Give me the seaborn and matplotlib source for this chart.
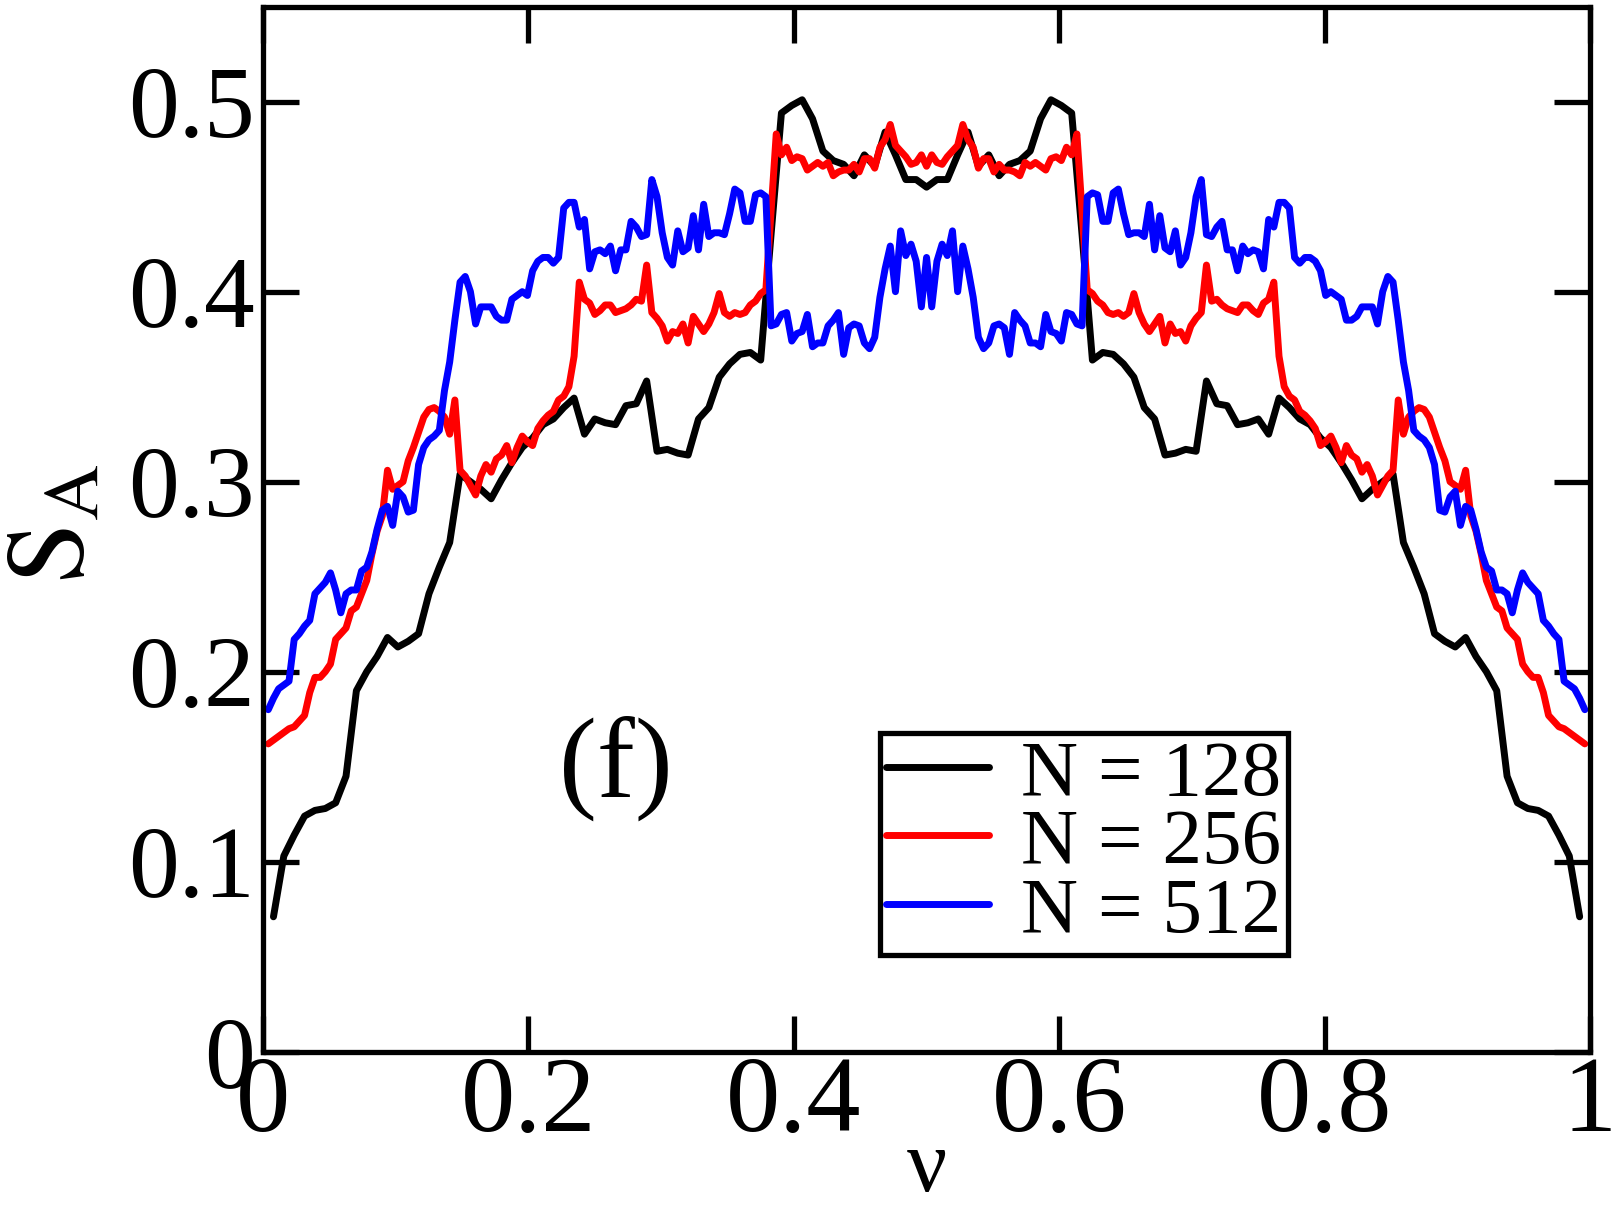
import numpy as np
import pandas as pd
import matplotlib
matplotlib.use("Agg")
import matplotlib.pyplot as plt
import seaborn as sns

# S_A vs filling nu, panel (f)
s_128 = [
    0.071, 0.103, 0.114, 0.124, 0.127, 0.128, 0.131, 0.145, 0.190, 0.200,
    0.208, 0.218, 0.213, 0.216, 0.220, 0.241, 0.255, 0.268, 0.304, 0.300,
    0.296, 0.291, 0.301, 0.310, 0.318, 0.323, 0.330, 0.333, 0.339, 0.344,
    0.325, 0.333, 0.331, 0.330, 0.340, 0.341, 0.353, 0.316, 0.317, 0.315,
    0.314, 0.333, 0.339, 0.355, 0.362, 0.367, 0.368, 0.364, 0.430, 0.494,
    0.498, 0.501, 0.491, 0.474, 0.469, 0.467, 0.461, 0.472, 0.466, 0.484,
    0.472, 0.459, 0.459, 0.455,
    0.459, 0.459, 0.472, 0.484, 0.466, 0.472, 0.461, 0.467, 0.469, 0.474,
    0.491, 0.501, 0.498, 0.494, 0.430, 0.364, 0.368, 0.367, 0.362, 0.355,
    0.339, 0.333, 0.314, 0.315, 0.317, 0.316, 0.353, 0.341, 0.340, 0.330,
    0.331, 0.333, 0.325, 0.344, 0.339, 0.333, 0.330, 0.323, 0.318, 0.310,
    0.301, 0.291, 0.296, 0.300, 0.304, 0.268, 0.255, 0.241, 0.220, 0.216,
    0.213, 0.218, 0.208, 0.200, 0.190, 0.145, 0.131, 0.128, 0.127, 0.124,
    0.114, 0.103, 0.071,
]

s_256 = [
    0.162, 0.164, 0.166, 0.168, 0.170, 0.171, 0.174, 0.177, 0.189, 0.197,
    0.197, 0.200, 0.204, 0.217, 0.220, 0.223, 0.232, 0.234, 0.241, 0.248,
    0.262, 0.274, 0.282, 0.306, 0.296, 0.298, 0.300, 0.311, 0.318, 0.326,
    0.334, 0.338, 0.339, 0.337, 0.334, 0.325, 0.343, 0.306, 0.303, 0.298,
    0.293, 0.303, 0.309, 0.305, 0.312, 0.314, 0.319, 0.310, 0.318, 0.324,
    0.321, 0.319, 0.328, 0.332, 0.335, 0.337, 0.343, 0.345, 0.350, 0.366,
    0.405, 0.396, 0.394, 0.388, 0.390, 0.393, 0.393, 0.389, 0.390, 0.391,
    0.393, 0.396, 0.395, 0.414, 0.389, 0.386, 0.382, 0.374, 0.379, 0.378,
    0.383, 0.373, 0.387, 0.383, 0.379, 0.383, 0.389, 0.399, 0.389, 0.387,
    0.389, 0.388, 0.389, 0.393, 0.395, 0.399, 0.401, 0.442, 0.483, 0.472,
    0.476, 0.469, 0.471, 0.470, 0.464, 0.466, 0.468, 0.466, 0.468, 0.461,
    0.463, 0.464, 0.464, 0.467, 0.463, 0.470, 0.470, 0.465, 0.476, 0.480,
    0.488, 0.477, 0.474, 0.471, 0.467, 0.468, 0.472, 0.466,
    0.472, 0.468, 0.467, 0.471, 0.474, 0.477, 0.488,
    0.480, 0.476, 0.465, 0.470, 0.470, 0.463, 0.467, 0.464, 0.464, 0.463,
    0.461, 0.468, 0.466, 0.468, 0.466, 0.464, 0.470, 0.471, 0.469, 0.476,
    0.472, 0.483, 0.442, 0.401, 0.399, 0.395, 0.393, 0.389, 0.388, 0.389,
    0.387, 0.389, 0.399, 0.389, 0.383, 0.379, 0.383, 0.387, 0.373, 0.383,
    0.378, 0.379, 0.374, 0.382, 0.386, 0.389, 0.414, 0.395, 0.396, 0.393,
    0.391, 0.390, 0.389, 0.393, 0.393, 0.390, 0.388, 0.394, 0.396, 0.405,
    0.366, 0.350, 0.345, 0.343, 0.337, 0.335, 0.332, 0.328, 0.319, 0.321,
    0.324, 0.318, 0.310, 0.319, 0.314, 0.312, 0.305, 0.309, 0.303, 0.293,
    0.298, 0.303, 0.306, 0.343, 0.325, 0.334, 0.337, 0.339, 0.338, 0.334,
    0.326, 0.318, 0.311, 0.300, 0.298, 0.296, 0.306, 0.282, 0.274, 0.262,
    0.248, 0.241, 0.234, 0.232, 0.223, 0.220, 0.217, 0.204, 0.200, 0.197,
    0.197, 0.189, 0.177, 0.174, 0.171, 0.170, 0.168, 0.166, 0.164, 0.162,
]

# N = 512 curve, taken at every second site
s_512 = [
    0.180, 0.186, 0.191, 0.193, 0.195, 0.217, 0.220, 0.224, 0.227, 0.241,
    0.244, 0.247, 0.252, 0.243, 0.231, 0.241, 0.243, 0.243, 0.253, 0.255,
    0.263, 0.275, 0.285, 0.287, 0.277, 0.295, 0.292, 0.284, 0.285, 0.309,
    0.318, 0.322, 0.324, 0.327, 0.348, 0.363, 0.385, 0.405, 0.408, 0.400,
    0.383, 0.392, 0.392, 0.392, 0.387, 0.385, 0.385, 0.396, 0.398, 0.400,
    0.398, 0.411, 0.416, 0.418, 0.418, 0.415, 0.418, 0.444, 0.447, 0.447,
    0.434, 0.438, 0.412, 0.421, 0.422, 0.420, 0.424, 0.411, 0.422, 0.422,
    0.437, 0.434, 0.429, 0.430, 0.459, 0.450, 0.431, 0.418, 0.414, 0.432,
    0.421, 0.423, 0.440, 0.422, 0.446, 0.429, 0.431, 0.431, 0.430, 0.441,
    0.454, 0.452, 0.437, 0.437, 0.451, 0.452, 0.450, 0.382, 0.383, 0.388,
    0.389, 0.374, 0.378, 0.379, 0.388, 0.371, 0.373, 0.373, 0.382, 0.385,
    0.389, 0.367, 0.381, 0.383, 0.382, 0.373, 0.370, 0.376, 0.397, 0.412,
    0.424, 0.400, 0.432, 0.419, 0.425, 0.416, 0.392, 0.418,
    0.392, 0.416, 0.425, 0.419, 0.432, 0.400, 0.424,
    0.412, 0.397, 0.376, 0.370, 0.373, 0.382, 0.383, 0.381, 0.367, 0.389,
    0.385, 0.382, 0.373, 0.373, 0.371, 0.388, 0.379, 0.378, 0.374, 0.389,
    0.388, 0.383, 0.382, 0.450, 0.452, 0.451, 0.437, 0.437, 0.452, 0.454,
    0.441, 0.430, 0.431, 0.431, 0.429, 0.446, 0.422, 0.440, 0.423, 0.421,
    0.432, 0.414, 0.418, 0.431, 0.450, 0.459, 0.430, 0.429, 0.434, 0.437,
    0.422, 0.422, 0.411, 0.424, 0.420, 0.422, 0.421, 0.412, 0.438, 0.434,
    0.447, 0.447, 0.444, 0.418, 0.415, 0.418, 0.418, 0.416, 0.411, 0.398,
    0.400, 0.398, 0.396, 0.385, 0.385, 0.387, 0.392, 0.392, 0.392, 0.383,
    0.400, 0.408, 0.405, 0.385, 0.363, 0.348, 0.327, 0.324, 0.322, 0.318,
    0.309, 0.285, 0.284, 0.292, 0.295, 0.277, 0.287, 0.285, 0.275, 0.263,
    0.255, 0.253, 0.243, 0.243, 0.241, 0.231, 0.243, 0.252, 0.247, 0.244,
    0.241, 0.227, 0.224, 0.220, 0.217, 0.195, 0.193, 0.191, 0.186, 0.180,
]

nu_128 = np.arange(1, 128) / 128
nu_256 = np.arange(1, 256) / 256
nu_512 = np.arange(1, 256) / 256

x_ticks = [0, 0.2, 0.4, 0.6, 0.8, 1.0]
x_tick_labels = ["0", "0.2", "0.4", "0.6", "0.8", "1"]
y_ticks = [0, 0.1, 0.2, 0.3, 0.4, 0.5]
y_tick_labels = ["0", "0.1", "0.2", "0.3", "0.4", "0.5"]

sns.set_style("white")
plt.rcParams["font.family"] = ["Liberation Serif", "DejaVu Serif"]
plt.rcParams["mathtext.fontset"] = "stix"
plt.rcParams["text.color"] = "black"
plt.rcParams["axes.labelcolor"] = "black"

fig = plt.figure(figsize=(16.19, 12.09), dpi=100)
ax = fig.add_axes([0.1625, 0.1301, 0.8196, 0.8644])

curves = [
    (nu_128, s_128, "N = 128", "#000000"),
    (nu_256, s_256, "N = 256", "#ff0000"),
    (nu_512, s_512, "N = 512", "#0000ff"),
]
for nu, s, lab, col in curves:
    df = pd.DataFrame({"nu": nu, "S": s})
    sns.lineplot(data=df, x="nu", y="S", color=col, linewidth=5,
                 label=lab, ax=ax, sort=False)

ax.set_xlim(0, 1)
ax.set_ylim(0, 0.55)
ax.set_xticks(x_ticks)
ax.set_xticklabels(x_tick_labels)
ax.set_yticks(y_ticks)
ax.set_yticklabels(y_tick_labels)
ax.tick_params(direction="in", length=26, width=3.8, top=True, right=True,
               bottom=True, left=True, colors="black")
ax.tick_params(axis="x", pad=3, labelsize=78)
ax.tick_params(axis="y", pad=6, labelsize=73)
for sp in ax.spines.values():
    sp.set_linewidth(3.8)
    sp.set_color("black")

ax.set_xlabel("ν", fontsize=64, labelpad=-18)
ax.set_ylabel(r"$\mathrm{S_A}$", fontsize=80)
ax.yaxis.set_label_coords(-0.118, 0.505)

ax.text(0.266, 0.149, "(f)", fontsize=82, ha="center", va="center")

leg = ax.legend(loc="upper left", bbox_to_anchor=(0.465, 0.305),
                borderaxespad=0, fontsize=57, frameon=True, fancybox=False,
                edgecolor="black", framealpha=1, handlelength=1.3,
                handletextpad=0.4, labelspacing=-0.05, borderpad=0.08)
leg.get_frame().set_linewidth(3.8)
for t in leg.get_texts():
    t.set_color("black")

fig.savefig("out.png", dpi=100)
